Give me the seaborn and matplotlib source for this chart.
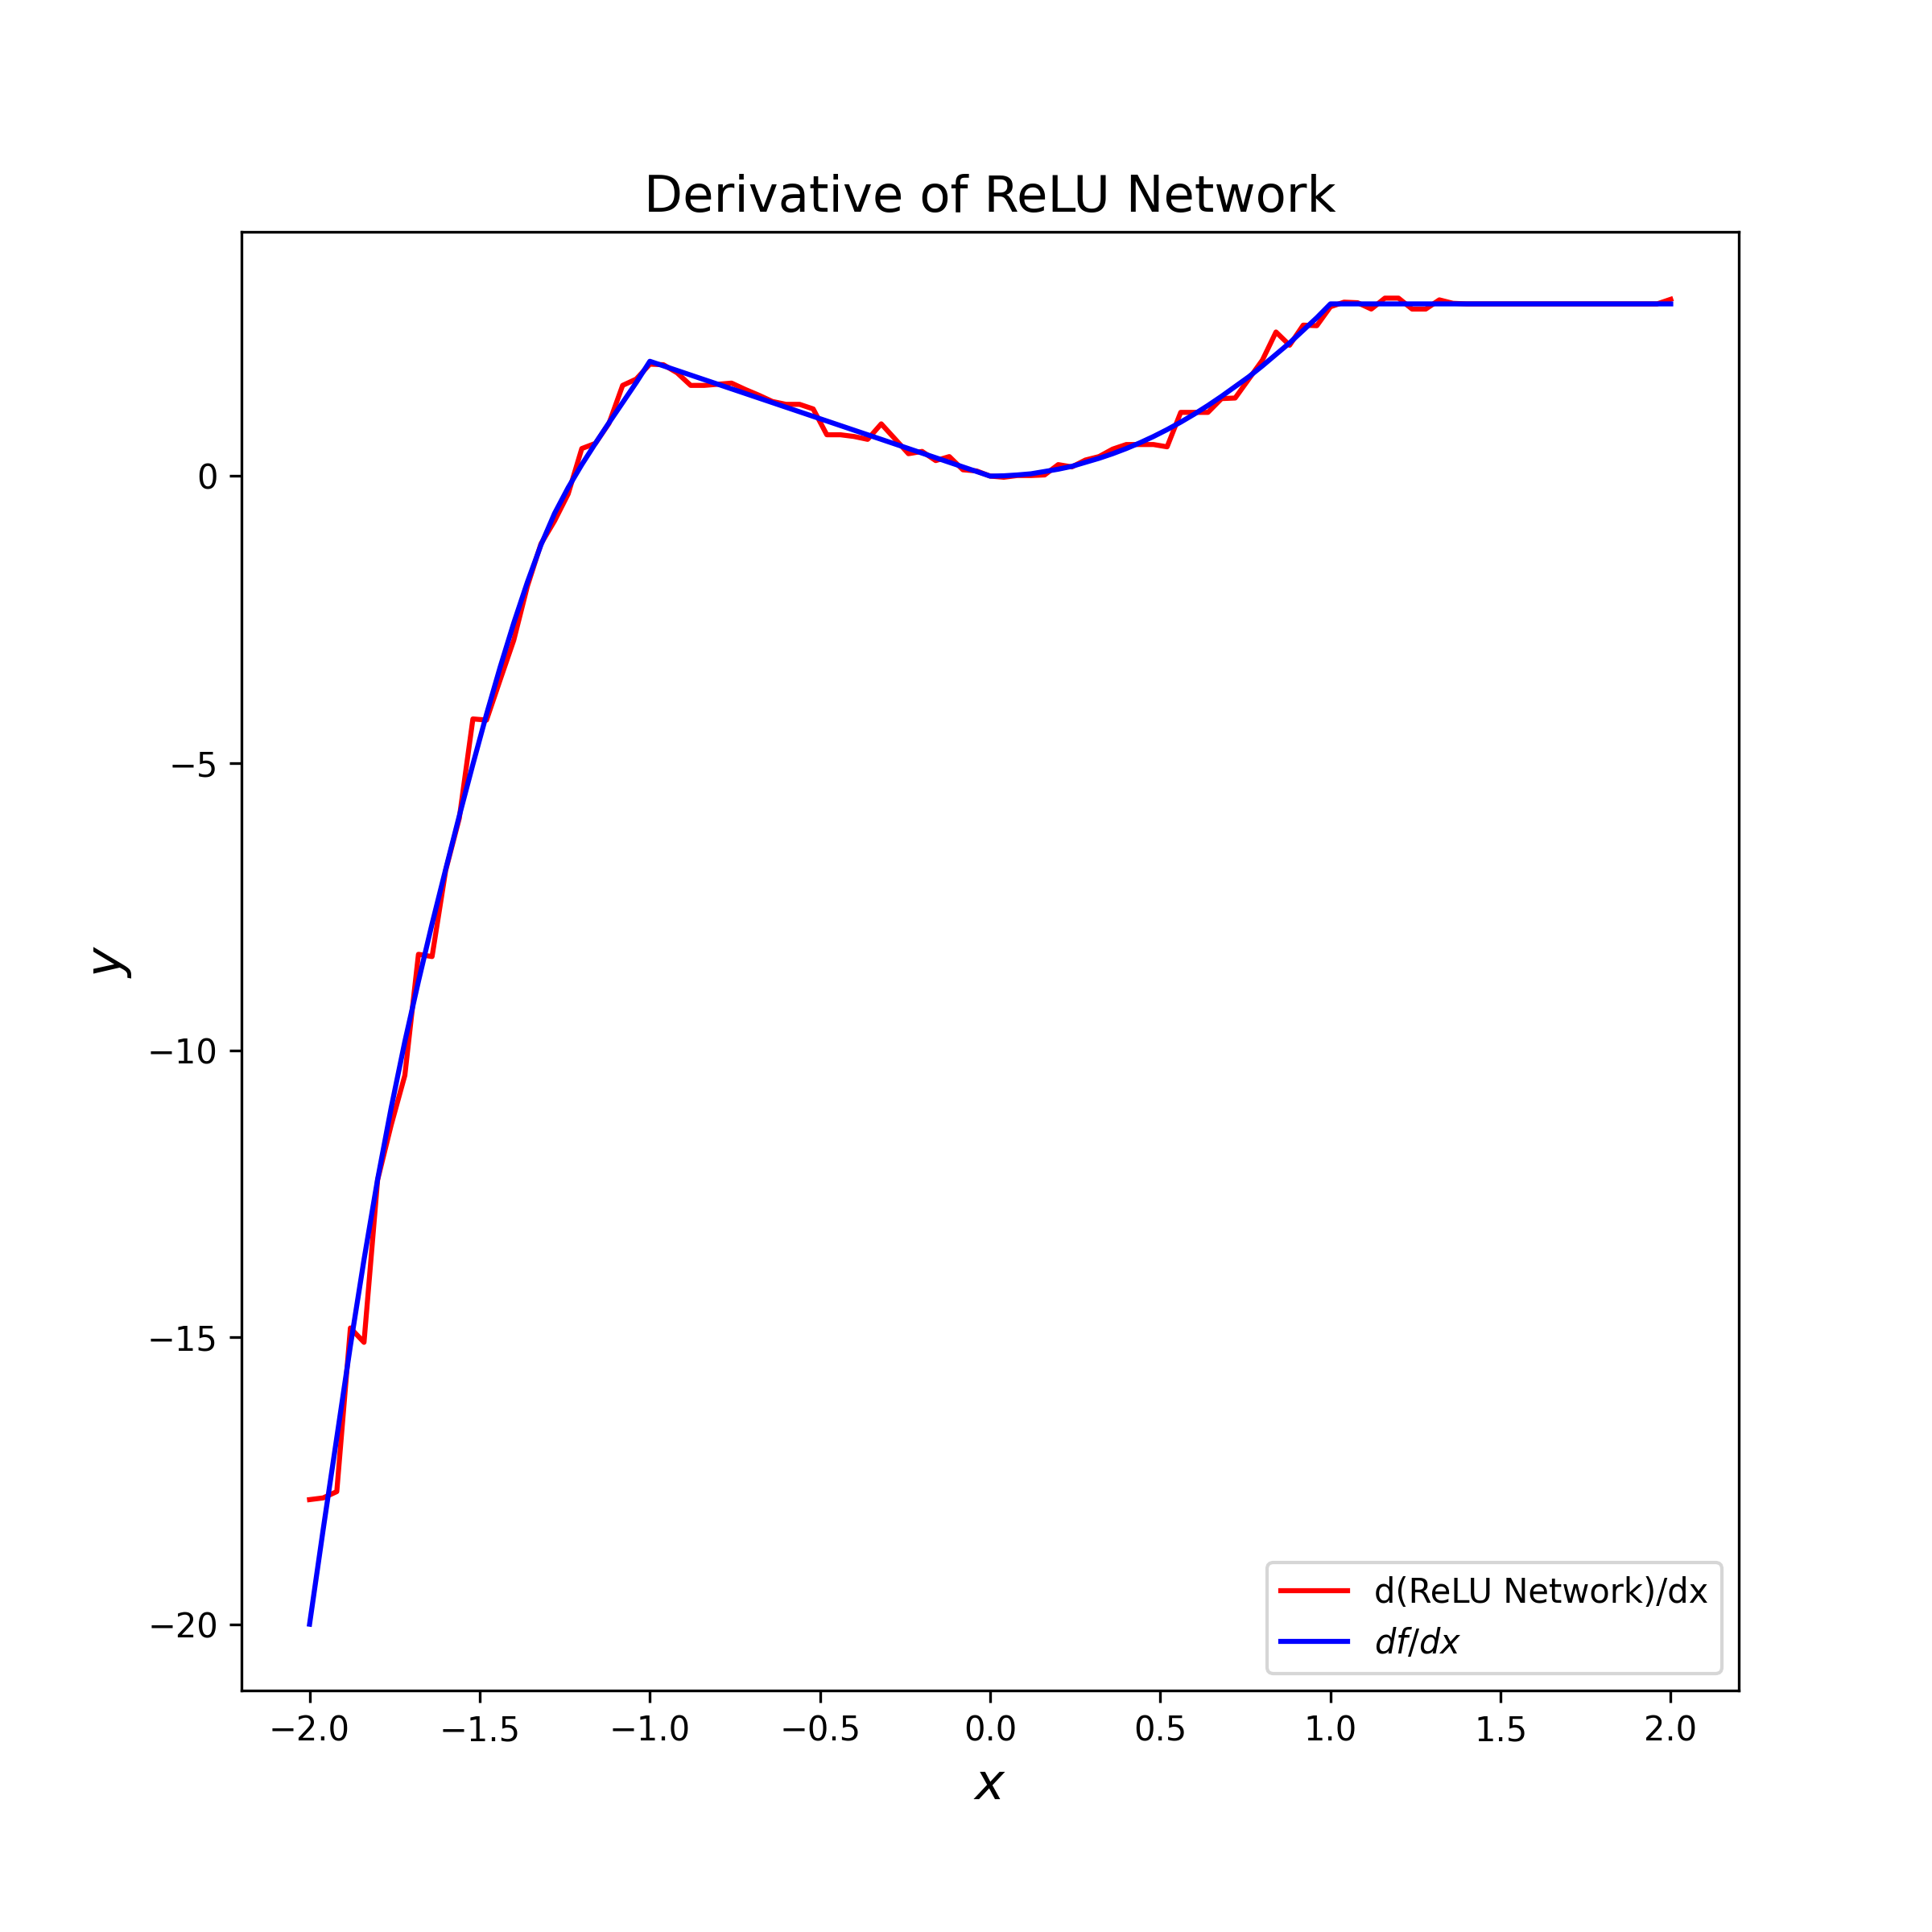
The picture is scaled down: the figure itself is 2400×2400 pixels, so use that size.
import numpy as np
import matplotlib
matplotlib.use('Agg')
import matplotlib.pyplot as plt
import seaborn as sns

# sample grid: 101 points between -2 and 2 (step 0.04)
x_vals = np.linspace(-2, 2, 101)

# network derivative
relu_deriv = [
    -17.83, -17.80, -17.69, -14.84, -15.09, -12.26, -11.30, -10.44, -8.33, -8.37,
    -6.87, -5.96, -4.23, -4.25, -3.55, -2.86, -1.92, -1.18, -0.78, -0.31,
    0.48, 0.57, 0.92, 1.58, 1.69, 1.95, 1.94, 1.80, 1.58, 1.58,
    1.60, 1.62, 1.51, 1.41, 1.30, 1.25, 1.25, 1.17, 0.72, 0.72,
    0.69, 0.64, 0.91, 0.65, 0.39, 0.43, 0.27, 0.34, 0.11, 0.09,
    0.00, -0.02, 0.01, 0.01, 0.02, 0.20, 0.16, 0.28, 0.34, 0.47,
    0.55, 0.55, 0.55, 0.51, 1.11, 1.11, 1.11, 1.35, 1.36, 1.69,
    2.02, 2.51, 2.28, 2.63, 2.62, 2.95, 3.03, 3.02, 2.91, 3.10,
    3.10, 2.91, 2.91, 3.07, 3.01, 3.00, 3.00, 3.00, 3.00, 3.00,
    3.00, 3.00, 3.00, 3.00, 3.00, 3.00, 3.00, 3.00, 3.00, 3.00,
    3.08,
]

# true derivative df/dx
true_deriv = [
    -20.0, -18.35, -16.75, -15.15, -13.65, -12.25, -11.0, -9.85, -8.8, -7.8,
    -6.85, -5.92, -5.02, -4.15, -3.33, -2.56, -1.85, -1.2, -0.65, -0.2,
    0.2, 0.57, 0.93, 1.28, 1.63, 2.0, 1.92, 1.84, 1.76, 1.68,
    1.60, 1.52, 1.44, 1.36, 1.28, 1.20, 1.12, 1.04, 0.96, 0.88,
    0.80, 0.72, 0.64, 0.56, 0.48, 0.40, 0.32, 0.24, 0.16, 0.08,
    0.0, 0.005, 0.02, 0.04, 0.08, 0.12, 0.17, 0.24, 0.31, 0.39,
    0.48, 0.58, 0.69, 0.81, 0.94, 1.08, 1.23, 1.39, 1.56, 1.73,
    1.92, 2.12, 2.32, 2.54, 2.76, 3.0, 3.0, 3.0, 3.0, 3.0,
    3.0, 3.0, 3.0, 3.0, 3.0, 3.0, 3.0, 3.0, 3.0, 3.0,
    3.0, 3.0, 3.0, 3.0, 3.0, 3.0, 3.0, 3.0, 3.0, 3.0,
    3.0,
]

fig, ax = plt.subplots(figsize=(8, 8), dpi=300)
fig.subplots_adjust(bottom=0.125)

sns.lineplot(x=x_vals, y=relu_deriv, color='red', label='d(ReLU Network)/dx', ax=ax)
sns.lineplot(x=x_vals, y=true_deriv, color='blue', label='$df/dx$', ax=ax)

ax.set_title('Derivative of ReLU Network', fontsize=15)
ax.set_xlabel('$x$', fontsize=15)
ax.set_ylabel('$y$', fontsize=15)
ax.legend(loc='lower right')

plt.savefig('out.png', dpi=300)
